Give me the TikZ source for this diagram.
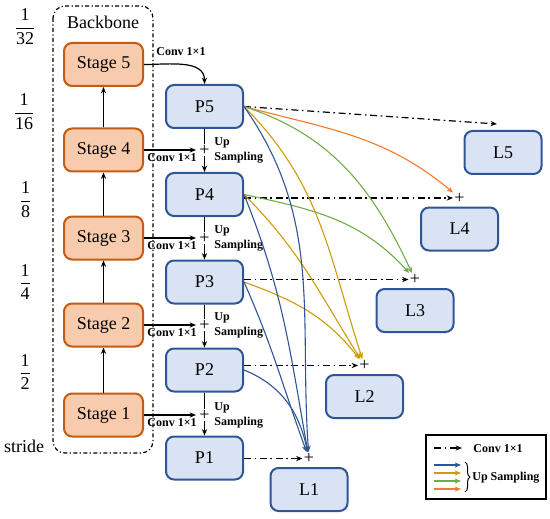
\documentclass[tikz,border=0pt]{standalone}
\usepackage{amsmath}
\usepackage{fontspec}
\setmainfont{Liberation Serif}
\usetikzlibrary{arrows.meta,positioning,calc,decorations.pathreplacing}
\definecolor{stagefill}{HTML}{F8CBAD}
\definecolor{stageline}{HTML}{C55A11}
\definecolor{featfill}{HTML}{DAE3F3}
\definecolor{featline}{HTML}{2F5597}
\definecolor{upblue}{HTML}{2F5597}
\definecolor{upgold}{HTML}{CF9B0B}
\definecolor{upgreen}{HTML}{70AD47}
\definecolor{uporange}{HTML}{F4792B}
\newcommand{\FRAC}[2]%
{%
    {$\dfrac{\text{#1}}{\text{#2}}$}%
}
\tikzset{
  stagebox/.style={
    draw=stageline,fill=stagefill,line width=1pt,rounded corners=4pt,
    minimum width=39.5pt,minimum height=21.5pt,
  },
  featbox/.style={
    draw=featline,fill=featfill,line width=1pt,rounded corners=4pt,
    minimum width=38.5pt,minimum height=21.5pt,
  },
  sumsign/.style={inner sep=0.5pt},
  convlabel/.style={inner sep=0.5pt,align=left,font=\fontsize{6}{7.5}\selectfont\bfseries},
  flow/.style={-{Stealth[length=3.2pt,width=2.6pt]},line width=0.6pt},
  conv/.style={flow,dash pattern=on 3.5pt off 1.8pt on 0.8pt off 1.8pt},
  upflow/.style={-{Stealth[length=3.2pt,width=2.6pt]},line width=0.55pt},
}

\begin{document}
\begin{tikzpicture}[x=0.5pt,y=0.5pt,font=\fontsize{9}{10}\selectfont]
    \useasboundingbox (0,0) rectangle (550,-518);
    % backbone frame
    \draw[line width=0.6pt,rounded corners=6pt,dash pattern=on 2pt off 1.2pt on 0.6pt off 1.2pt]
        (53,-6) rectangle (153,-453);
    \node (backbone) at (103,-22) {Backbone};
    % strides
    \node (s32) at (25,-27) {\FRAC{1}{32}};
    \node (s16) at (24,-112) {\FRAC{1}{16}};
    \node (s8) at (25.5,-200) {\FRAC{1}{8}};
    \node (s4) at (25,-282) {\FRAC{1}{4}};
    \node (s2) at (25,-372) {\FRAC{1}{2}};
    \node (stride) at (24,-446) {stride};
    % boxes
    \foreach \i/\y in {5/64.5,4/150,3/238,2/325,1/415}
        \node[stagebox] (S\i) at (103.5,-\y) {Stage \i};
    \foreach \i/\y in {5/106.5,4/194.5,3/282,2/370,1/458}
        \node[featbox] (P\i) at (204.5,-\y) {P\i};
    \foreach \i/\x/\y in {5/503/152.5,4/459.5/229,3/415/310.5,2/364.5/396.5,1/309/489.5}
        \node[featbox] (L\i) at (\x,-\y) {L\i};
    % bottom-up path
    \foreach \a/\b in {1/2,2/3,3/4,4/5}
        \draw[flow] (S\a) -- (S\b);
    \draw[flow] (S5) to[out=0,in=90] (P5);
    \node[convlabel,anchor=south west] at ($(S5.east)+(11,7)$) {Conv 1×1};
    % top-down path
    \foreach \i/\j in {4/5,3/4,2/3,1/2}
    {
        \node[sumsign] (up\i) at (P\i |- S\i) {+};
        \draw[line width=0.6pt] (P\j) -- (up\i);
        \draw[flow] (up\i) -- (P\i);
        \draw[flow,shorten >=1pt] (S\i) -- (up\i);
        \node[convlabel,anchor=north east] at ($(up\i.west)+(0,-2)$) {Conv 1×1};
        \node[convlabel,anchor=west] at ($(up\i.east)+(2,0)$) {Up\\Sampling};
    }
    % outputs
    \foreach \i in {4,...,1}
        \node[sumsign,above=1pt of L\i] (add\i) {+};
    \coordinate (in5) at ($(L5.north)+(-6,6)$);
    \draw[conv] (P5.east) -- (in5);
    \foreach \i in {4,...,1}
        \draw[conv] (P\i.east |- add\i) -- (add\i);
    \draw[upflow,uporange] (P5.east) to[out=-15,in=140] (add4);
    \draw[upflow,upgreen] (P5.east) to[out=-18,in=115] (add3);
    \draw[upflow,upgreen] (P4.east) to[out=-12,in=132] (add3);
    \draw[upflow,upgold] (P5.east) to[out=-45,in=108] (add2);
    \draw[upflow,upgold] (P4.east) to[out=-45,in=122] (add2);
    \draw[upflow,upgold] (P3.east) to[out=-20,in=128] (add2);
    \draw[upflow,upblue] (P5.east) to[out=-55,in=94] (add1);
    \draw[upflow,upblue] (P4.east) to[out=-68,in=100] (add1);
    \draw[upflow,upblue] (P3.east) to[out=-66,in=110] (add1);
    \draw[upflow,upblue] (P2.east) to[out=-22,in=102] (add1);
    % key
    \node[draw,line width=0.75pt,minimum width=60pt,minimum height=32pt] (key) at (486,-467) {};
    \coordinate (k0) at (434,-448);
    \draw[conv] (k0) -- ++(28,0);
    \node[convlabel] (kconv) at (498,-449) {Conv 1×1};
    \foreach \c [count=\n] in {upblue,upgold,upgreen,uporange}
        \draw[upflow,\c] (434,-457-8*\n) -- ++(27,0);
    \draw[line width=0.5pt,decorate,decoration={brace,amplitude=2.5pt}] (465,-462) -- (465,-492);
    \node[convlabel,anchor=west] (kup) at (471,-478) {Up Sampling};
\end{tikzpicture}
\end{document}
